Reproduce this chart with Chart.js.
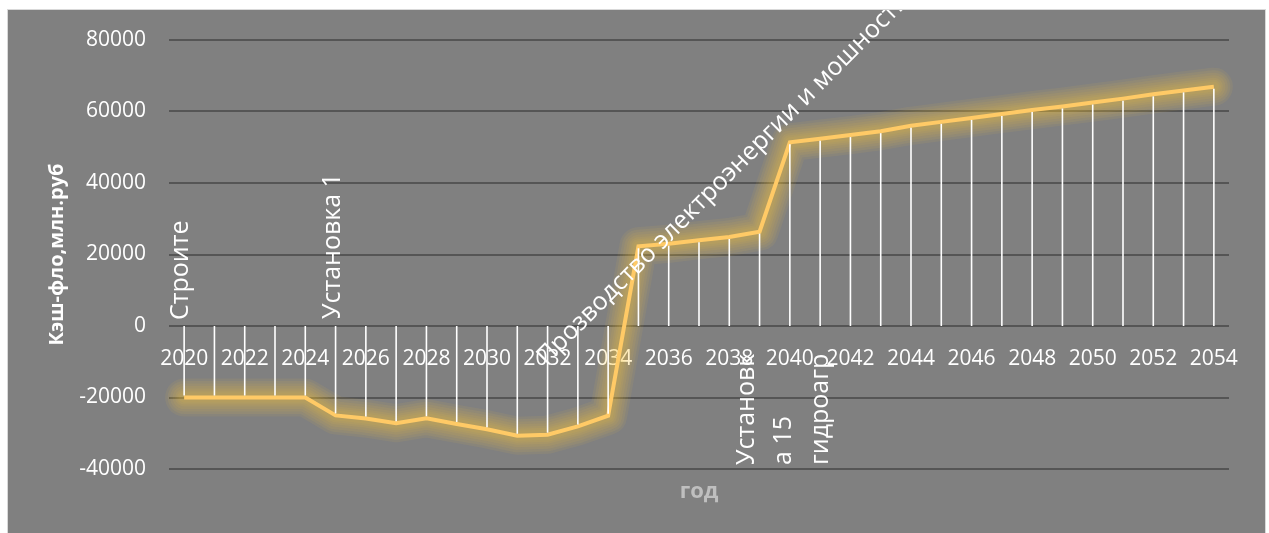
<!DOCTYPE html>
<html><head><meta charset="utf-8">
<script src="https://cdn.jsdelivr.net/npm/chart.js@4.4.1/dist/chart.umd.min.js"></script>
<style>
html,body{margin:0;padding:0;background:#fff;}
#wrap{position:absolute;left:7px;top:9px;width:1257px;height:524px;border:1px solid #d9d9d9;background:#808080;}
canvas{display:block;}
</style></head><body>
<div id="wrap"><canvas id="c" width="1257" height="524"></canvas></div>
<script>
// ---- data ----
const years = ['2020','2021','2022','2023','2024','2025','2026','2027','2028','2029',
  '2030','2031','2032','2033','2034','2035','2036','2037','2038','2039',
  '2040','2041','2042','2043','2044','2045','2046','2047','2048','2049',
  '2050','2051','2052','2053','2054'];
const cashFlow = [-20000,-20000,-20000,-20000,-20000,-25000,-25900,-27200,-25800,-27400,
  -28900,-30700,-30400,-28100,-25100,22300,23000,24000,24900,26400,
  51400,52400,53400,54500,56000,57100,58200,59300,60400,61400,
  62500,63600,64800,65900,66950];
const yTicks = [-40000,-20000,0,20000,40000,60000,80000];
const yAxisTitle = 'Кэш-фло,млн.руб';
const xAxisTitle = 'год';
const labelYears = ['2020','2025','2035','2040'];
const labelTexts = ['Строите','Установка 1','Прозводство электроэнергии и мошности','Установк\nа 15\nгидроагр'];

// ---- plugins ----
const glow = {
  id:'glow',
  beforeDatasetDraw(chart){
    const c=chart.ctx, pts=chart.getDatasetMeta(0).data;
    c.save();
    c.lineJoin='round'; c.lineCap='round';
    [38,33,28,23,18,14,10].forEach(w=>{
      c.strokeStyle='rgba(250,195,50,0.075)'; c.lineWidth=w;
      c.beginPath(); pts.forEach((p,i)=> i? c.lineTo(p.x,p.y) : c.moveTo(p.x,p.y)); c.stroke();
    });
    c.restore();
  }
};
const dropLines = {
  id:'dropLines',
  afterDatasetsDraw(chart){
    const c=chart.ctx, ys=chart.scales.y, zero=ys.getPixelForValue(0);
    const meta=chart.getDatasetMeta(0);
    c.save(); c.strokeStyle='#ffffff'; c.lineWidth=1.6;
    meta.data.forEach(p=>{
      const s = p.y < zero ? 2 : -2;
      c.beginPath(); c.moveTo(p.x, p.y + s); c.lineTo(p.x, zero); c.stroke();
    });
    c.restore();
  }
};
const texts = {
  id:'texts',
  afterDraw(chart){
    const c=chart.ctx, xs=chart.scales.x, ys=chart.scales.y, a=chart.chartArea;
    const zero=ys.getPixelForValue(0);
    const px = i => xs.getPixelForValue(years.indexOf(labelYears[i]));
    const rot = (txt, x, y, ang, font, lh) => {
      c.save(); c.translate(x,y); c.rotate(ang);
      c.font=font; c.fillStyle='#ffffff'; c.textAlign='left'; c.textBaseline='alphabetic';
      txt.split('\n').forEach((t,k)=>c.fillText(t,0,k*(lh||0)));
      c.restore();
    };
    const f='25px "Open Sans"';
    rot(labelTexts[0], px(0)+4, zero-6, -Math.PI/2, f);
    rot(labelTexts[1], px(1)+4, zero-7, -Math.PI/2, f);
    rot(labelTexts[2], px(2)-92, zero+40, -Math.PI/4, f);
    rot(labelTexts[3], px(3)-36, zero+139, -Math.PI/2, f, 37);
    // axis titles
    c.save();
    c.font='bold 20px "Open Sans"'; c.fillStyle='#ffffff'; c.textAlign='center'; c.textBaseline='middle';
    c.translate(49,(a.top+a.bottom)/2); c.rotate(-Math.PI/2); c.fillText(yAxisTitle,0,0);
    c.restore();
    c.save();
    c.font='bold 22px "Open Sans"'; c.fillStyle='#bfbfbf'; c.textAlign='center'; c.textBaseline='middle';
    c.fillText(xAxisTitle,(a.left+a.right)/2,a.bottom+23);
    c.restore();
  }
};

new Chart(document.getElementById('c'),{
  type:'line',
  data:{labels:years,datasets:[{data:cashFlow,borderColor:'#ffca66',borderWidth:4,pointRadius:0,tension:0,fill:false}]},
  options:{
    responsive:false, animation:false,
    layout:{padding:{left:0,top:30,right:36,bottom:65}},
    plugins:{legend:{display:false},tooltip:{enabled:false}},
    scales:{
      x:{type:'category',offset:true,position:{y:0},
        afterFit:s=>{s.paddingLeft=0;s.paddingRight=0;s.paddingTop=0;s.paddingBottom=0;},
        grid:{display:false},border:{display:false},
        ticks:{autoSkip:false,maxRotation:0,minRotation:0,padding:12,color:'#ffffff',
          font:{family:'"Open Sans"',size:21},
          callback:(v,i)=> i%2===0 ? years[i] : ''}},
      y:{min:-40000,max:80000,
        afterBuildTicks:s=>{s.ticks=yTicks.map(v=>({value:v}));},
        afterFit:s=>{s.width=161;s.paddingTop=0;s.paddingBottom=0;},
        grid:{color:'#555555',lineWidth:2,drawTicks:false},border:{display:false},
        ticks:{padding:23,color:'#ffffff',font:{family:'"Open Sans"',size:21},callback:v=>String(v)}}
    }
  },
  plugins:[glow,dropLines,texts]
});
</script></body></html>
